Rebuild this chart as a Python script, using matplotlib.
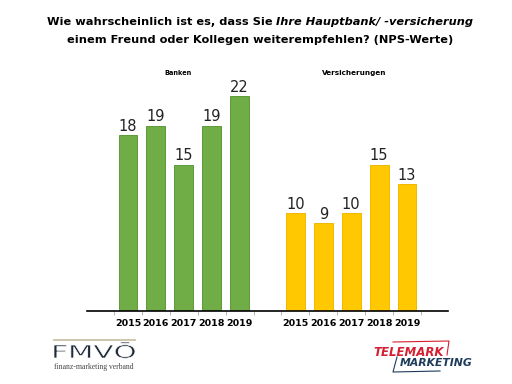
import matplotlib.pyplot as plt
from matplotlib.lines import Line2D
from matplotlib.textpath import TextPath
from matplotlib.patches import PathPatch
from matplotlib.transforms import Affine2D
from matplotlib.font_manager import FontProperties

years = ['2015', '2016', '2017', '2018', '2019']
banken = [18, 19, 15, 19, 22]
versicherungen = [10, 9, 10, 15, 13]

green, yellow = '#70AD47', '#FFC800'
W, H = 512, 384

fig = plt.figure(figsize=(5.12, 3.84), dpi=100)
ax = fig.add_axes([87/W, 73/H, 361/W, 244/H])

xb = list(range(5))
xv = [i + 6 for i in range(5)]
bars1 = ax.bar(xb, banken, width=0.68, color=green, edgecolor='#5E9A38', linewidth=0.7)
bars2 = ax.bar(xv, versicherungen, width=0.68, color=yellow, edgecolor='#F0B800', linewidth=0.7)

for bars, vals in ((bars1, banken), (bars2, versicherungen)):
    for b, v in zip(bars, vals):
        ax.annotate(str(v), (b.get_x() + b.get_width()/2, v), xytext=(0, 1),
                    textcoords='offset points', ha='center', va='bottom',
                    fontsize=10.5, color='#222222')

ax.set_xlim(-1.47, 11.47)
ax.set_ylim(0, 25)
ax.set_xticks(xb + xv)
ax.set_xticklabels(years + years, fontsize=6.8, fontweight='bold')
ax.set_xticks([i - 0.5 for i in range(12)], minor=True)
ax.tick_params(axis='x', which='major', length=0, pad=6)
ax.tick_params(axis='x', which='minor', length=3, color='#aaaaaa')
ax.set_yticks([])
for s in ['top', 'right', 'left']:
    ax.spines[s].set_visible(False)
ax.spines['bottom'].set_linewidth(1.2)

ax.text(1.8, 24.4, 'Banken', ha='center', va='center', fontsize=4.7, fontweight='bold')
ax.text(8.1, 24.4, 'Versicherungen', ha='center', va='center', fontsize=5.2, fontweight='bold')

# title (first line partly italic)
t1 = fig.text(0, 1 - 22/H, 'Wie wahrscheinlich ist es, dass Sie ', ha='left', va='center',
              fontsize=8.2, fontweight='bold')
t2 = fig.text(0, 1 - 22/H, 'Ihre Hauptbank/ -versicherung', ha='left', va='center',
              fontsize=8.2, fontweight='bold', style='italic')
r = fig.canvas.get_renderer()
w1 = t1.get_window_extent(r).width
w2 = t2.get_window_extent(r).width
x0 = 260 - (w1 + w2) / 2
t1.set_x(x0 / W)
t2.set_x((x0 + w1) / W)
fig.text(260/W, 1 - 40/H, 'einem Freund oder Kollegen weiterempfehlen? (NPS-Werte)',
         ha='center', va='center', fontsize=8.2, fontweight='bold')

# fmvö logo (stretched text, thinned with a white edge)
fig.add_artist(Line2D([54/W, 135/W], [1 - 340/H]*2, color='#c9c2a8', lw=1.3))
tp = TextPath((0, 0), 'FMVŌ', size=1, prop=FontProperties(family='DejaVu Sans'))
ext = tp.get_extents()
sx = 81 / ext.width
sy = 13 / 0.73
tr = Affine2D().translate(-ext.x0, 0).scale(sx / W, sy / H).translate(54/W, 1 - 358/H) + fig.transFigure
fig.add_artist(PathPatch(tp, transform=tr, facecolor='#1c2a3a', edgecolor='white', lw=0.5))
fig.text(54/W, 1 - 367/H, 'finanz-marketing verband', fontsize=5.5, color='#444444',
         va='center', ha='left', family='Liberation Serif')

# telemark logo
fig.text(373/W, 1 - 352/H, 'TELEMARK', fontsize=8.5, color='#d42030', va='center', ha='left',
         fontweight='bold', style='italic')
fig.text(400/W, 1 - 363/H, 'MARKETING', fontsize=7.8, color='#1e3c5a', va='center', ha='left',
         fontweight='bold', style='italic')
fig.add_artist(Line2D([393/W, 449/W, 447/W], [1 - 342/H, 1 - 341/H, 1 - 355/H],
                      color='#d42030', lw=0.8))
fig.add_artist(Line2D([397/W, 393/W, 440/W], [1 - 357/H, 1 - 372/H, 1 - 371/H],
                      color='#1e3c5a', lw=0.8))

fig.savefig('out.png', dpi=100)
